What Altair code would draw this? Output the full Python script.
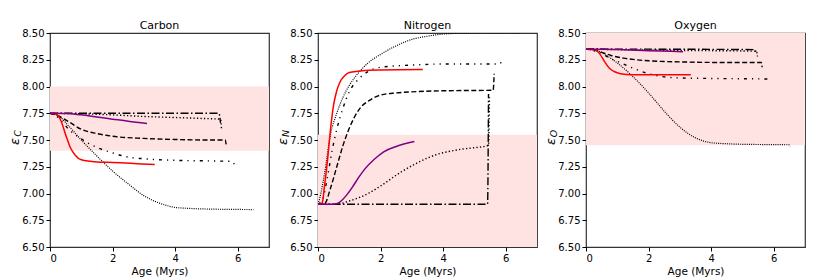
import altair as alt
import pandas as pd

# ---------------- data (age in Myrs, abundance epsilon) ----------------
AGE_TICKS = [0, 2, 4, 6]
EPS_TICKS = [6.5, 6.75, 7.0, 7.25, 7.5, 7.75, 8.0, 8.25, 8.5]
PANEL_TITLES = ["Carbon", "Nitrogen", "Oxygen"]
PANEL_SUBS = ["C", "N", "O"]
BAND_LO = [7.40, 6.50, 7.45]
BAND_HI = [8.00, 7.55, 8.50]

c_dotted = [(0, 7.75), (0.3, 7.72), (0.6, 7.63), (1.0, 7.50), (1.5, 7.35), (2.0, 7.21), (2.5, 7.09),
            (3.0, 6.98), (3.5, 6.91), (4.0, 6.87), (4.5, 6.86), (5.0, 6.855), (6.5, 6.85)]
c_dashdotdot = [(0, 7.75), (0.3, 7.70), (0.6, 7.60), (1.0, 7.51), (1.5, 7.43), (2.0, 7.38), (2.5, 7.34),
                (3.0, 7.325), (4.0, 7.31), (5.0, 7.305), (5.8, 7.30), (5.9, 7.27)]
c_dashed = [(0, 7.75), (0.3, 7.72), (0.6, 7.67), (1.0, 7.60), (1.5, 7.56), (2.0, 7.535), (3.0, 7.515),
            (4.0, 7.505), (5.0, 7.50), (5.6, 7.50), (5.63, 7.46)]
c_dashdot = [(0, 7.75), (5.4, 7.75), (5.45, 7.66)]
c_loosedot = [(0, 7.75), (1, 7.745), (2, 7.735), (3, 7.72), (4, 7.71), (5, 7.70), (5.45, 7.695), (5.48, 7.61)]
c_red = [(0, 7.75), (0.2, 7.74), (0.35, 7.68), (0.5, 7.55), (0.65, 7.43), (0.8, 7.36), (1.0, 7.315),
         (1.5, 7.295), (2.0, 7.29), (3.35, 7.27)]
c_purple = [(0, 7.75), (0.5, 7.748), (1, 7.735), (1.5, 7.715), (2, 7.695), (2.5, 7.675), (3.1, 7.655)]

n_dotted = [(0, 6.9), (0.05, 6.95), (0.2, 7.17), (0.4, 7.55), (0.6, 7.75), (0.8, 7.9), (1.0, 8.01),
            (1.3, 8.13), (1.6, 8.22), (2.0, 8.30), (2.5, 8.38), (3.0, 8.44), (3.5, 8.47), (4.0, 8.49),
            (5.0, 8.5), (6.5, 8.5)]
n_dashdotdot = [(0, 6.9), (0.15, 6.95), (0.3, 7.15), (0.45, 7.4), (0.6, 7.6), (0.8, 7.8), (1.0, 7.95),
                (1.3, 8.07), (1.6, 8.14), (2.0, 8.18), (3.0, 8.2), (4.0, 8.21), (5.8, 8.21), (5.9, 8.26)]
n_dashed = [(0, 6.9), (0.2, 6.9), (0.4, 7.05), (0.6, 7.25), (0.8, 7.45), (1.0, 7.61), (1.3, 7.78),
            (1.7, 7.88), (2.0, 7.92), (2.5, 7.94), (3.0, 7.95), (4.0, 7.96), (5.6, 7.965), (5.63, 8.12)]
n_dashdot = [(0, 6.9), (5.42, 6.9), (5.45, 7.93)]
n_loosedot = [(0, 6.9), (0.6, 6.9), (1.0, 6.93), (1.6, 7.0), (2.0, 7.07), (2.65, 7.2), (3.2, 7.29),
              (3.75, 7.36), (4.5, 7.41), (5.45, 7.45), (5.48, 7.9)]
n_red = [(0, 6.9), (0.1, 6.9), (0.15, 6.93), (0.2, 7.05), (0.3, 7.3), (0.4, 7.6), (0.5, 7.83),
         (0.6, 7.96), (0.7, 8.04), (0.85, 8.1), (1.0, 8.13), (1.5, 8.15), (2.0, 8.155), (3.35, 8.16)]
n_purple = [(0, 6.9), (0.5, 6.9), (0.7, 6.92), (0.9, 6.98), (1.1, 7.06), (1.3, 7.15), (1.5, 7.23),
            (1.8, 7.32), (2.1, 7.39), (2.5, 7.44), (3.08, 7.485)]

o_dotted = [(0, 8.35), (0.3, 8.34), (0.6, 8.30), (1.0, 8.22), (1.4, 8.12), (2.0, 7.94), (2.5, 7.77),
            (3.0, 7.62), (3.5, 7.52), (4.0, 7.475), (4.5, 7.465), (5.0, 7.46), (6.5, 7.455), (6.52, 7.44)]
o_dashdotdot = [(0, 8.35), (0.4, 8.32), (0.8, 8.26), (1.2, 8.21), (1.6, 8.16), (2.0, 8.12), (2.5, 8.09),
                (3.0, 8.08), (4.0, 8.075), (5.8, 8.07), (5.9, 8.04)]
o_dashed = [(0, 8.35), (0.4, 8.33), (0.8, 8.29), (1.2, 8.265), (1.6, 8.25), (2.0, 8.24), (3.0, 8.23),
            (4.0, 8.225), (5.6, 8.225), (5.63, 8.18)]
o_dashdot = [(0, 8.35), (5.4, 8.345), (5.45, 8.30)]
o_loosedot = [(0, 8.35), (2, 8.34), (4, 8.335), (5.45, 8.33), (5.48, 8.28)]
o_red = [(0, 8.35), (0.3, 8.34), (0.45, 8.30), (0.6, 8.23), (0.75, 8.17), (0.9, 8.14), (1.1, 8.12),
         (1.5, 8.11), (3.35, 8.11)]
o_purple = [(0, 8.35), (1, 8.345), (2, 8.335), (3.1, 8.325)]

PANEL_SERIES = [
    [c_dotted, c_dashdotdot, c_dashed, c_dashdot, c_loosedot, c_red, c_purple],
    [n_dotted, n_dashdotdot, n_dashed, n_dashdot, n_loosedot, n_red, n_purple],
    [o_dotted, o_dashdotdot, o_dashed, o_dashdot, o_loosedot, o_red, o_purple],
]

# ---------------- styles ----------------
STYLES = [
    ("black", [1, 1.2], 1.2),
    ("black", [3, 5, 1.2, 5, 1.2, 5], 1.4),
    ("black", [5, 2.5], 1.4),
    ("black", [8, 2.5, 1.5, 2.5], 1.4),
    ("black", [1.3, 2.2], 1.4),
    ("red", None, 1.5),
    ("purple", None, 1.5),
]

W, H = 219, 214
xs = alt.Scale(domain=[0, 7], nice=False, zero=False)
ys = alt.Scale(domain=[6.5, 8.5], nice=False, zero=False)
YAX = alt.Axis(values=EPS_TICKS, format=".2f", title="ε", labelOverlap=False,
               titleFontSize=13, titleFontStyle="italic", titlePadding=0, titleY=108)
XAX = alt.Axis(values=AGE_TICKS, format="d", title="Age (Myrs)", labelOverlap=False)


def panel(i):
    band = alt.Chart(pd.DataFrame({"lo": [BAND_LO[i]], "hi": [BAND_HI[i]]})).mark_rect(
        color="#ffe3e3"
    ).encode(
        y=alt.Y("lo:Q", scale=ys, axis=YAX),
        y2="hi:Q",
        x=alt.value(0),
        x2=alt.value(W),
    )
    layers = [band]
    for pts, (col, dash, sw) in zip(PANEL_SERIES[i], STYLES):
        df = pd.DataFrame(pts, columns=["age", "eps"])
        kw = dict(color=col, strokeWidth=sw, interpolate="monotone", clip=True)
        if dash:
            kw["strokeDash"] = dash
        layers.append(
            alt.Chart(df).mark_line(**kw).encode(
                x=alt.X("age:Q", scale=xs, axis=XAX),
                y=alt.Y("eps:Q", scale=ys, axis=YAX),
                order="age:Q",
            )
        )
    sub = alt.Chart(pd.DataFrame({"t": [PANEL_SUBS[i]]})).mark_text(
        angle=270, fontSize=9.5, fontStyle="italic", font="DejaVu Sans", color="black"
    ).encode(text="t:N", x=alt.value(-32), y=alt.value(100.5))
    layers += [sub]
    return alt.layer(*layers).properties(width=W, height=H, title=PANEL_TITLES[i])


chart = alt.hconcat(panel(0), panel(1), panel(2), spacing=49, bounds="flush").properties(
    padding={"left": 0, "top": 11, "right": 2, "bottom": 2},
).configure_view(
    stroke="#333333", strokeWidth=1.2
).configure_axis(
    domain=False, grid=False, tickColor="black", tickSize=4, labelColor="black",
    labelFontSize=10, labelFont="DejaVu Sans", titleFont="DejaVu Sans", titleFontSize=10.5,
    titleFontWeight="normal", titleColor="black", labelPadding=2, titlePadding=3,
).configure_title(
    font="DejaVu Sans", fontSize=11, fontWeight="normal", color="black", offset=-3,
)

chart.save("out.html", embed_options={"renderer": "svg", "actions": False})
